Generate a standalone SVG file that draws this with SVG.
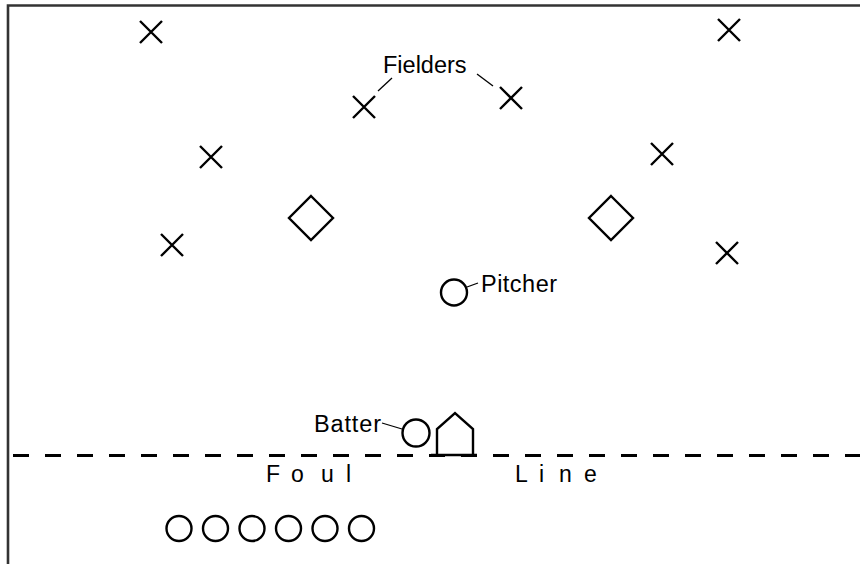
<svg xmlns="http://www.w3.org/2000/svg" width="860" height="564" viewBox="0 0 860 564">
<defs>
<style>
.s{fill:none;stroke:#000;stroke-width:2.4;stroke-linecap:butt}
.t{font-family:"Liberation Sans",Arial,sans-serif;font-size:23.5px;fill:#000}
.f{font-family:"Liberation Sans",Arial,sans-serif;font-size:23px;fill:#000}
.lead{fill:none;stroke:#000;stroke-width:1.3}
</style>
<path id="x" d="M-11,-11 L11,11 M11,-11 L-11,11"/>
<path id="d" d="M0,-22 L22,0 L0,22 L-22,0 Z"/>
</defs>
<rect width="860" height="564" fill="#fff"/>
<g id="frame"><path d="M8,564 L8,5.5 L860,5.5" fill="none" stroke="#333" stroke-width="2.6"/></g>
<g id="fielders">
<use href="#x" class="s" x="151" y="32"/>
<use href="#x" class="s" x="211" y="157"/>
<use href="#x" class="s" x="364" y="107"/>
<use href="#x" class="s" x="511" y="98"/>
<use href="#x" class="s" x="729" y="30"/>
<use href="#x" class="s" x="662" y="154"/>
<use href="#x" class="s" x="727" y="253"/>
<use href="#x" class="s" x="172" y="245"/>
</g>
<g id="bases">
<use href="#d" class="s" x="311" y="218"/>
<use href="#d" class="s" x="611" y="218"/>
</g>
<g id="fielders-label"><text class="t" x="383" y="73">Fielders</text></g>
<g id="pitcher"><circle class="s" cx="454" cy="292.5" r="13"/><text class="t" x="481" y="292" textLength="76">Pitcher</text></g>
<g id="batter"><circle class="s" cx="416" cy="433" r="13.5"/><text class="t" x="314" y="432" textLength="67">Batter</text></g>
<g id="home-plate"><path class="s" d="M437,455 L437,429 L455,413 L473,429 L473,455"/><path class="s" d="M431,455 L477,455"/></g>
<g id="foul-line">
<path d="M13,455.5 L860,455.5" fill="none" stroke="#000" stroke-width="3" stroke-dasharray="16 16"/>
<text class="f" x="266 291 321 346" y="482">Foul</text>
<text class="f" x="515 539 559 584" y="482">Line</text>
</g>
<g id="waiting">
<circle class="s" cx="179" cy="528.5" r="12.5"/>
<circle class="s" cx="215.5" cy="528.5" r="12.5"/>
<circle class="s" cx="252" cy="528.5" r="12.5"/>
<circle class="s" cx="288.5" cy="528.5" r="12.5"/>
<circle class="s" cx="325" cy="528.5" r="12.5"/>
<circle class="s" cx="361.5" cy="528.5" r="12.5"/>
</g>
<g id="connectors">
<path class="lead" d="M378,91 L392,78"/>
<path class="lead" d="M477,74 L493,86"/>
<path class="lead" d="M467,287 L478,283"/>
<path class="lead" d="M382,423 L402,429"/>
</g>
</svg>
